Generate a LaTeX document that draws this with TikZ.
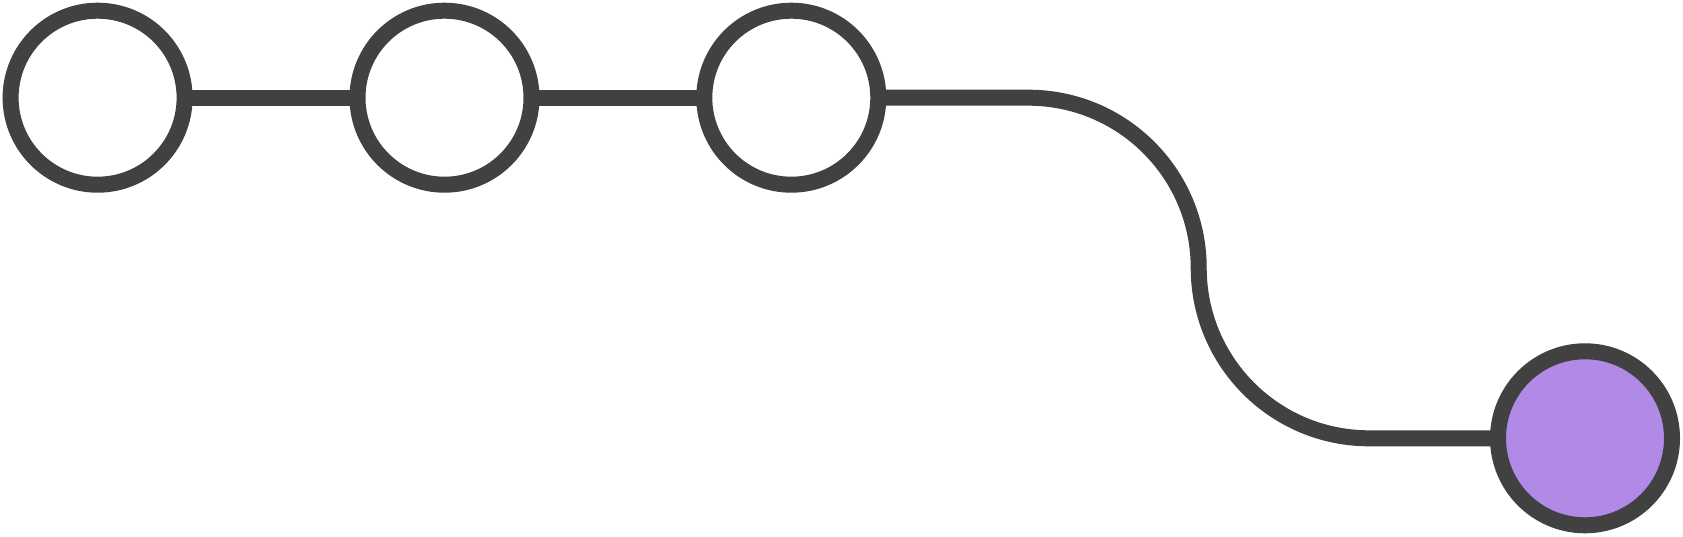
\documentclass[tikz,border=0pt]{standalone}
\definecolor{edgegray}{HTML}{414141}
\definecolor{lilac}{HTML}{B18AE8}
\begin{document}
\begin{tikzpicture}[x=1pt,y=-1pt,
  stepnode/.style={circle,draw=edgegray,line width=16pt,minimum size=174pt,inner sep=0pt,outer sep=0pt,fill=white},
  goalnode/.style={stepnode,fill=lilac},
  link/.style={draw=edgegray,line width=16pt}]
\fill[white] (0,0) rectangle (1683,537);
\useasboundingbox (0,0) rectangle (1683,537);
\node[stepnode] (a) at (97.6,97.7) {};
\node[stepnode] (b) at (444.5,97.7) {};
\node[stepnode] (c) at (791.3,97.7) {};
\node[goalnode] (d) at (1585,438.3) {};
\coordinate (k1) at (1198.7,97.7);
\coordinate (k2) at (1198.7,438.3);
\draw[link] (a.east) -- (b.west);
\draw[link] (b.east) -- (c.west);
\draw[link,rounded corners=170.3pt] (c.east) -- (k1) -- (k2) -- (d.west);
\end{tikzpicture}
\end{document}
